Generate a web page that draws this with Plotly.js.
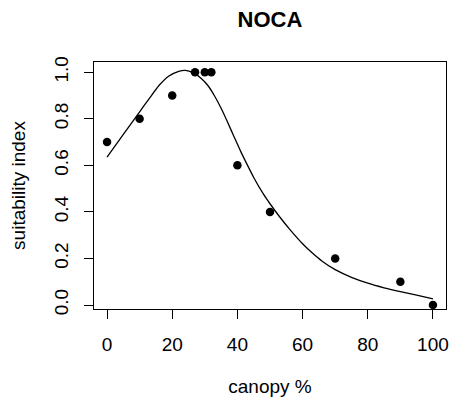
<!DOCTYPE html>
<html>
<head>
<meta charset="utf-8">
<script src="https://cdn.plot.ly/plotly-3.0.1.min.js"></script>
<style>
  html, body { margin: 0; padding: 0; background: #ffffff; }
  #chart { width: 451px; height: 401px; }
</style>
</head>
<body>
<div id="chart"></div>
<script>
// Observed suitability at each canopy cover level
const canopy = [0, 10, 20, 27, 30, 32, 40, 50, 70, 90, 100];
const suitability = [0.7, 0.8, 0.9, 1.0, 1.0, 1.0, 0.6, 0.4, 0.2, 0.1, 0.0];

// Fitted suitability curve
const curveCanopy = [0, 5, 10, 13, 16, 19, 22, 24, 26.5, 29, 31, 33, 35, 37, 39, 41, 43, 45,
                     48, 50, 53, 56, 60, 63, 66, 70, 75, 80, 85, 90, 95, 100];
const curveSuitability = [0.635, 0.733, 0.83, 0.888, 0.944, 0.984, 1.004, 1.008, 0.997, 0.972,
                          0.942, 0.898, 0.845, 0.785, 0.722, 0.66, 0.603, 0.548, 0.476, 0.435,
                          0.378, 0.326, 0.263, 0.223, 0.188, 0.152, 0.119, 0.094, 0.074, 0.057,
                          0.042, 0.026];

// Axis ticks
const xTicks = [0, 20, 40, 60, 80, 100];
const yTicks = [0.0, 0.2, 0.4, 0.6, 0.8, 1.0];
const yTickText = ['0.0', '0.2', '0.4', '0.6', '0.8', '1.0'];

const FONT = 'Liberation Sans, Arial, Helvetica, sans-serif';

const traces = [
  {
    x: curveCanopy, y: curveSuitability,
    type: 'scatter', mode: 'lines',
    line: { color: '#000000', width: 1.3, shape: 'spline', smoothing: 0.6 },
    hoverinfo: 'skip'
  },
  {
    x: canopy, y: suitability,
    type: 'scatter', mode: 'markers',
    marker: { color: '#000000', size: 8.5 }
  }
];

const axisCommon = {
  showgrid: false, zeroline: false,
  showline: true, mirror: true, linecolor: '#000000', linewidth: 1,
  ticks: 'outside', ticklen: 9, tickwidth: 1, tickcolor: '#000000',
  tickfont: { family: FONT, size: 19, color: '#000000' },
  fixedrange: true
};

const layout = {
  width: 451, height: 401,
  margin: { l: 94, r: 5, t: 62, b: 92 },
  paper_bgcolor: '#ffffff', plot_bgcolor: '#ffffff',
  showlegend: false,
  title: {
    text: 'NOCA',
    font: { family: FONT, size: 22, weight: 'bold', color: '#000000' },
    x: 0.5, xref: 'paper', xanchor: 'center',
    y: 1 - 19 / 401, yref: 'container', yanchor: 'middle'
  },
  xaxis: Object.assign({}, axisCommon, {
    range: [-4, 104],
    tickvals: xTicks,
    ticklabelstandoff: 9,
    title: { text: 'canopy %', font: { family: FONT, size: 19, color: '#000000' }, standoff: 25 }
  }),
  yaxis: Object.assign({}, axisCommon, {
    range: [-0.0172, 1.044],
    tickvals: yTicks, ticktext: yTickText,
    tickangle: -90,
    ticklabelstandoff: 8,
    title: { text: 'suitability index', font: { family: FONT, size: 19, color: '#000000' }, standoff: 20 }
  })
};

Plotly.newPlot('chart', traces, layout, { displayModeBar: false, staticPlot: true });
</script>
</body>
</html>
